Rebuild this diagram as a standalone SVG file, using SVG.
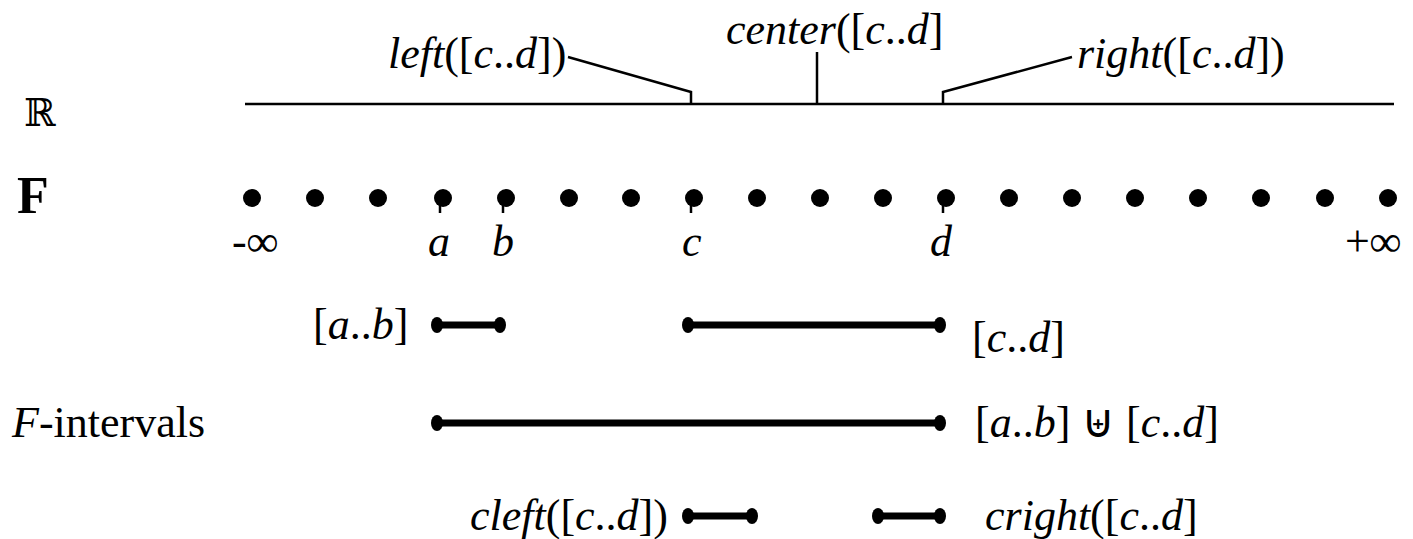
<svg xmlns="http://www.w3.org/2000/svg" width="1413" height="539" viewBox="0 0 1413 539">
<style>
text{font-family:"Liberation Serif","DejaVu Serif",serif;font-size:44px;fill:#000}
.i{font-style:italic}
.ln{stroke:#000;stroke-width:2.5;fill:none}
.seg{stroke:#000;stroke-width:7;fill:none}
</style>
<defs>
<ellipse id="cap" rx="6" ry="8" fill="#000"/>
<circle id="pt" r="9" fill="#000"/>
</defs>
<g id="labels-left">
<text x="24" y="126" style="font-family:'DejaVu Serif',serif;font-size:38px">ℝ</text>
<text x="17" y="213" font-weight="bold" style="font-size:52px">F</text>
<text x="12" y="437"><tspan class="i">F</tspan>-intervals</text>
</g>
<g id="real-line">
<line class="ln" x1="245" y1="104" x2="1394" y2="104"/>
</g>
<g id="connectors">
<polyline class="ln" points="568,57 691,92 691,104"/>
<line class="ln" x1="817" y1="52" x2="817" y2="104"/>
<polyline class="ln" points="1072,57 943,92 943,104"/>
<line class="ln" x1="440" y1="198" x2="440" y2="213"/>
<line class="ln" x1="503" y1="198" x2="503" y2="213"/>
<line class="ln" x1="691" y1="198" x2="691" y2="213"/>
<line class="ln" x1="943" y1="198" x2="943" y2="213"/>
</g>
<g id="top-labels">
<text x="388" y="68"><tspan class="i">left</tspan>([<tspan class="i">c</tspan>..<tspan class="i">d</tspan>])</text>
<text x="726" y="44"><tspan class="i">center</tspan>([<tspan class="i">c</tspan>..<tspan class="i">d</tspan>]</text>
<text x="1077" y="68"><tspan class="i">right</tspan>([<tspan class="i">c</tspan>..<tspan class="i">d</tspan>])</text>
</g>
<g id="F-points">
<use href="#pt" x="252" y="198"/><use href="#pt" x="315" y="198"/><use href="#pt" x="378" y="198"/>
<use href="#pt" x="443" y="198"/><use href="#pt" x="506" y="198"/><use href="#pt" x="569" y="198"/>
<use href="#pt" x="631" y="198"/><use href="#pt" x="694" y="198"/><use href="#pt" x="757" y="198"/>
<use href="#pt" x="820" y="198"/><use href="#pt" x="883" y="198"/><use href="#pt" x="946" y="198"/>
<use href="#pt" x="1009" y="198"/><use href="#pt" x="1072" y="198"/><use href="#pt" x="1135" y="198"/>
<use href="#pt" x="1198" y="198"/><use href="#pt" x="1261" y="198"/><use href="#pt" x="1325" y="198"/>
<use href="#pt" x="1388" y="198"/>
</g>
<g id="point-labels">
<text x="232" y="256">-<tspan class="i">∞</tspan></text>
<text x="428" y="256" class="i">a</text>
<text x="492" y="256" class="i">b</text>
<text x="682" y="256" class="i">c</text>
<text x="930" y="256" class="i">d</text>
<text x="1345" y="256">+<tspan class="i">∞</tspan></text>
</g>
<g id="interval-ab">
<line class="seg" x1="437" y1="325" x2="500" y2="325"/>
<use href="#cap" x="437" y="325"/><use href="#cap" x="500" y="325"/>
<text x="313" y="339">[<tspan class="i">a</tspan>..<tspan class="i">b</tspan>]</text>
</g>
<g id="interval-cd">
<line class="seg" x1="688" y1="325" x2="940" y2="325"/>
<use href="#cap" x="688" y="325"/><use href="#cap" x="940" y="325"/>
<text x="972" y="352">[<tspan class="i">c</tspan>..<tspan class="i">d</tspan>]</text>
</g>
<g id="interval-union">
<line class="seg" x1="437" y1="423" x2="940" y2="423"/>
<use href="#cap" x="437" y="423"/><use href="#cap" x="940" y="423"/>
<text x="975" y="437">[<tspan class="i">a</tspan>..<tspan class="i">b</tspan>] <tspan style="font-family:'DejaVu Sans',sans-serif;font-size:46px">⊎</tspan> [<tspan class="i">c</tspan>..<tspan class="i">d</tspan>]</text>
</g>
<g id="interval-cleft">
<line class="seg" x1="688" y1="516" x2="752" y2="516"/>
<use href="#cap" x="688" y="516"/><use href="#cap" x="752" y="516"/>
<text x="470" y="530"><tspan class="i">cleft</tspan>([<tspan class="i">c</tspan>..<tspan class="i">d</tspan>])</text>
</g>
<g id="interval-cright">
<line class="seg" x1="878" y1="516" x2="940" y2="516"/>
<use href="#cap" x="878" y="516"/><use href="#cap" x="940" y="516"/>
<text x="985" y="530"><tspan class="i">cright</tspan>([<tspan class="i">c</tspan>..<tspan class="i">d</tspan>]</text>
</g>
</svg>
